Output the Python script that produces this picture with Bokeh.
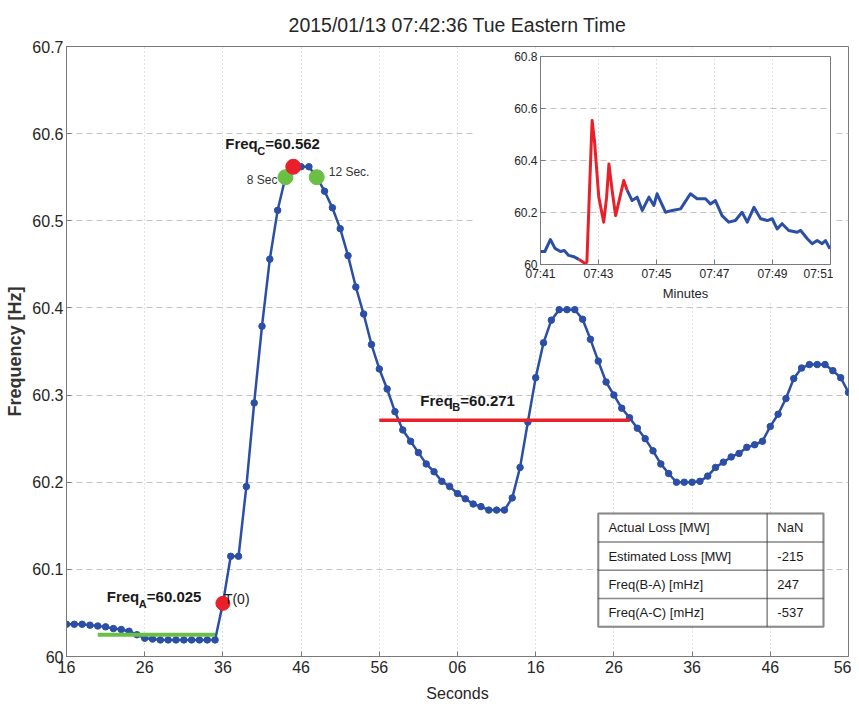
from bokeh.plotting import figure
from bokeh.models import FixedTicker, Label, BoxAnnotation
from bokeh.layouts import column
from bokeh.embed import file_html
from bokeh.resources import INLINE

# ---------------- data ----------------
title_text = "2015/01/13 07:42:36 Tue Eastern Time"
seconds = list(range(0, 101))
freq = [
    60.037, 60.037, 60.037, 60.036, 60.035, 60.034, 60.032, 60.031, 60.029, 60.025,
    60.021, 60.020, 60.019, 60.019, 60.019, 60.019, 60.019, 60.019, 60.019, 60.019,
    60.061, 60.115, 60.115, 60.195, 60.291, 60.379, 60.456, 60.512, 60.550, 60.560,
    60.562, 60.562, 60.550, 60.534, 60.515, 60.491, 60.460, 60.424, 60.393, 60.358,
    60.330, 60.307, 60.281, 60.260, 60.247, 60.234, 60.221, 60.212, 60.201, 60.195,
    60.187, 60.181, 60.175, 60.172, 60.168, 60.168, 60.168, 60.182, 60.217, 60.269,
    60.320, 60.360, 60.386, 60.398, 60.398, 60.398, 60.387, 60.364, 60.339, 60.315,
    60.300, 60.285, 60.274, 60.262, 60.250, 60.236, 60.221, 60.210, 60.200, 60.200,
    60.200, 60.201, 60.207, 60.217, 60.223, 60.229, 60.233, 60.240, 60.243, 60.247,
    60.264, 60.278, 60.296, 60.319, 60.331, 60.335, 60.335, 60.335, 60.328, 60.320,
    60.303,
]
x_tick_values = [0, 10, 20, 30, 40, 50, 60, 70, 80, 90, 100]
x_tick_labels = ["16", "26", "36", "46", "56", "06", "16", "26", "36", "46", "56"]
y_tick_values = [60.0, 60.1, 60.2, 60.3, 60.4, 60.5, 60.6, 60.7]
y_tick_labels = ["60", "60.1", "60.2", "60.3", "60.4", "60.5", "60.6", "60.7"]

t0_time = 20
t0_freq = 60.061
freq_a = 60.025
a_window = [4, 19]
freq_b = 60.271
b_window = [40, 72]
freq_c = 60.562
c_time = 29
sec8_time = 28
sec8_freq = 60.550
sec12_time = 32
sec12_freq = 60.550

# inset (10-minute view)
inset_pre_min = [41.00, 41.15, 41.34, 41.50, 41.69, 41.82, 41.97, 42.15, 42.32]
inset_pre_freq = [60.050, 60.050, 60.096, 60.062, 60.050, 60.054, 60.035, 60.030, 60.020]
inset_event_min = [42.32, 42.55, 42.60, 42.69, 42.78, 42.86, 43.01, 43.18, 43.28, 43.36,
                   43.47, 43.59, 43.74, 43.87, 43.99]
inset_event_freq = [60.020, 60.003, 60.010, 60.285, 60.554, 60.477, 60.259, 60.163, 60.259, 60.387,
                    60.285, 60.188, 60.259, 60.323, 60.285]
inset_post_min = [43.99, 44.16, 44.33, 44.51, 44.74, 44.91, 45.02, 45.31, 45.54, 45.83,
                  46.17, 46.40, 46.69, 46.86, 47.03, 47.26, 47.49, 47.72, 47.95, 48.13,
                  48.36, 48.59, 48.82, 48.99, 49.16, 49.33, 49.56, 49.85, 49.97, 50.20,
                  50.37, 50.54, 50.71, 50.83, 50.98]
inset_post_freq = [60.285, 60.246, 60.259, 60.208, 60.259, 60.227, 60.272, 60.201, 60.208, 60.214,
                   60.272, 60.253, 60.253, 60.233, 60.246, 60.188, 60.163, 60.169, 60.201, 60.163,
                   60.220, 60.176, 60.169, 60.176, 60.137, 60.157, 60.131, 60.124, 60.131, 60.099,
                   60.080, 60.092, 60.080, 60.092, 60.060]
inset_x_ticks = [41, 43, 45, 47, 49, 51]
inset_x_labels = ["07:41", "07:43", "07:45", "07:47", "07:49", "07:51"]
inset_y_ticks = [60.0, 60.2, 60.4, 60.6, 60.8]
inset_y_labels = ["60", "60.2", "60.4", "60.6", "60.8"]

table_labels = ["Actual Loss [MW]", "Estimated Loss [MW]", "Freq(B-A) [mHz]", "Freq(A-C) [mHz]"]
table_values = ["NaN", "-215", "247", "-537"]

# ---------------- style ----------------
FONT = "Liberation Sans"
BLUE = "#2b4ea6"
RED = "#e8202a"
GREEN = "#6cbf45"
AXIS = "#7a7a7a"
GRID = "#c4c4c4"
TXT = "#262626"
LEFT_PANEL = 66
RIGHT_PANEL = 3


def style_axis(ax, ticks, labels, size):
    ax.ticker = FixedTicker(ticks=ticks)
    ax.major_label_overrides = dict(zip(ticks, labels))
    ax.major_tick_in = 5
    ax.major_tick_out = 0
    ax.minor_tick_line_color = None
    ax.axis_line_color = AXIS
    ax.major_tick_line_color = AXIS
    ax.major_label_text_font = FONT
    ax.major_label_text_font_size = size
    ax.major_label_text_color = TXT
    ax.major_label_standoff = 4


p = figure(width=851, height=704, x_range=(0, 100), y_range=(60.0, 60.7),
           output_backend="svg", toolbar_location=None,
           min_border_left=LEFT_PANEL, min_border_right=RIGHT_PANEL,
           min_border_top=46, min_border_bottom=39,
           background_fill_color="white", border_fill_color="white",
           outline_line_color=AXIS)
p.title.text = title_text
p.title.align = "center"
p.title.text_font = FONT
p.title.text_font_size = "19.5px"
p.title.text_font_style = "normal"
p.title.text_color = TXT
p.title.standoff = 22

style_axis(p.xaxis[0], x_tick_values, x_tick_labels, "16px")
style_axis(p.yaxis[0], y_tick_values, y_tick_labels, "16px")
p.yaxis.major_label_standoff = 3
p.xaxis.axis_label = "Seconds"
p.xaxis.axis_label_text_font = FONT
p.xaxis.axis_label_text_font_size = "16px"
p.xaxis.axis_label_text_font_style = "normal"
p.xaxis.axis_label_text_color = TXT
p.xaxis.axis_label_standoff = 9
p.yaxis.axis_label = "Frequency [Hz]"
p.yaxis.axis_label_text_font = FONT
p.yaxis.axis_label_text_font_size = "18px"
p.yaxis.axis_label_text_font_style = "bold"
p.yaxis.axis_label_text_color = "#333333"
p.yaxis.axis_label_standoff = 4

p.xgrid.grid_line_color = GRID
p.xgrid.grid_line_dash = "1 3"
p.ygrid.grid_line_color = GRID
p.ygrid.grid_line_dash = "6 4"

# data line and markers
p.line(seconds, freq, line_color=BLUE, line_width=2.5)
p.scatter(seconds, freq, size=6.5, fill_color=BLUE, line_color=BLUE)

# reference lines
p.line(a_window, [freq_a, freq_a], line_color=GREEN, line_width=4)
p.line(b_window, [freq_b, freq_b], line_color=RED, line_width=3.5)

# event markers
p.scatter([t0_time], [t0_freq], size=14, fill_color=RED, line_color=RED)
p.scatter([sec8_time, sec12_time], [sec8_freq, sec12_freq], size=15,
          fill_color=GREEN, line_color=GREEN)
p.scatter([c_time], [freq_c], size=15, fill_color=RED, line_color=RED)


def subscript_label(xa, ya, dx, dy, sub, val):
    common = dict(x=xa, y=ya, text_font=FONT, text_font_style="bold",
                  text_color="#1a1a1a", text_baseline="middle", text_align="left")
    p.add_layout(Label(text="Freq", x_offset=dx, y_offset=dy, text_font_size="15px", **common))
    p.add_layout(Label(text=sub, x_offset=dx + 32, y_offset=dy - 7, text_font_size="11px", **common))
    p.add_layout(Label(text="=%.3f" % val, x_offset=dx + 40, y_offset=dy, text_font_size="15px", **common))


subscript_label(c_time, freq_c, -68, 23, "C", freq_c)
subscript_label(a_window[0], freq_a, 9, 38, "A", freq_a)
subscript_label(b_window[0], freq_b, 41, 20, "B", freq_b)

p.add_layout(Label(x=t0_time, y=t0_freq, x_offset=1, y_offset=4, text="T(0)",
                   text_font=FONT, text_font_size="14px", text_color="#1a1a1a",
                   text_baseline="middle", text_align="left"))
p.add_layout(Label(x=sec8_time, y=sec8_freq, x_offset=-8, y_offset=-3, text="8 Sec",
                   text_font=FONT, text_font_size="12px", text_color="#333333",
                   text_baseline="middle", text_align="right"))
p.add_layout(Label(x=sec12_time, y=sec12_freq, x_offset=12, y_offset=5, text="12 Sec.",
                   text_font=FONT, text_font_size="12px", text_color="#333333",
                   text_baseline="middle", text_align="left"))

# summary table (layout in data units of the main axes)
TB_LEFT, TB_SPLIT, TB_RIGHT = 68.0, 89.6, 96.8
TB_TOP, ROW_H = 60.164, 0.0325
p.add_layout(BoxAnnotation(left=TB_LEFT, right=TB_RIGHT, top=TB_TOP,
                           bottom=TB_TOP - ROW_H * len(table_labels),
                           fill_color="white", fill_alpha=1.0,
                           line_color="#1a1a1a", line_width=2.5))
for i, (lab, val) in enumerate(zip(table_labels, table_values)):
    top = TB_TOP - ROW_H * i
    for l_, r_ in ((TB_LEFT, TB_SPLIT), (TB_SPLIT, TB_RIGHT)):
        p.add_layout(BoxAnnotation(left=l_, right=r_, top=top, bottom=top - ROW_H,
                                   fill_alpha=0, line_color="#1a1a1a", line_width=1.5))
    yc = top - ROW_H / 2
    p.add_layout(Label(x=TB_LEFT + 1.3, y=yc, text=lab, text_font=FONT, text_font_size="13px",
                       text_color="#1a1a1a", text_baseline="middle"))
    p.add_layout(Label(x=TB_SPLIT + 1.3, y=yc, text=val, text_font=FONT, text_font_size="13px",
                       text_color="#1a1a1a", text_baseline="middle"))

# ---------------- inset ----------------
# plots stacked in a column share left/right panel widths, so the inset uses the same ones
ins = figure(frame_width=290, frame_height=208, x_range=(41, 51), y_range=(60.0, 60.8),
             output_backend="svg", toolbar_location=None,
             min_border_left=LEFT_PANEL, min_border_right=RIGHT_PANEL,
             min_border_top=8, min_border_bottom=38,
             background_fill_color="white", border_fill_color="white",
             outline_line_color=AXIS)
style_axis(ins.xaxis[0], inset_x_ticks, inset_x_labels, "12px")
style_axis(ins.yaxis[0], inset_y_ticks, inset_y_labels, "12px")
ins.xaxis.major_label_standoff = 2
ins.yaxis.major_label_standoff = 3
ins.xaxis.axis_label = "Minutes"
ins.xaxis.axis_label_text_font = FONT
ins.xaxis.axis_label_text_font_size = "13px"
ins.xaxis.axis_label_text_font_style = "normal"
ins.xaxis.axis_label_text_color = TXT
ins.xaxis.axis_label_standoff = 2
ins.xgrid.grid_line_color = GRID
ins.xgrid.grid_line_dash = "1 3"
ins.ygrid.grid_line_color = GRID
ins.ygrid.grid_line_dash = "6 4"
ins.line(inset_pre_min, inset_pre_freq, line_color=BLUE, line_width=3, line_join="round")
ins.line(inset_post_min, inset_post_freq, line_color=BLUE, line_width=3, line_join="round")
ins.line(inset_event_min, inset_event_freq, line_color=RED, line_width=3, line_join="round")
ins.styles = {"position": "absolute", "left": "%dpx" % (540 - LEFT_PANEL), "top": "48px",
              "z-index": "5"}

layout = column(p, ins)
open("out.html", "w").write(file_html(layout, INLINE))
